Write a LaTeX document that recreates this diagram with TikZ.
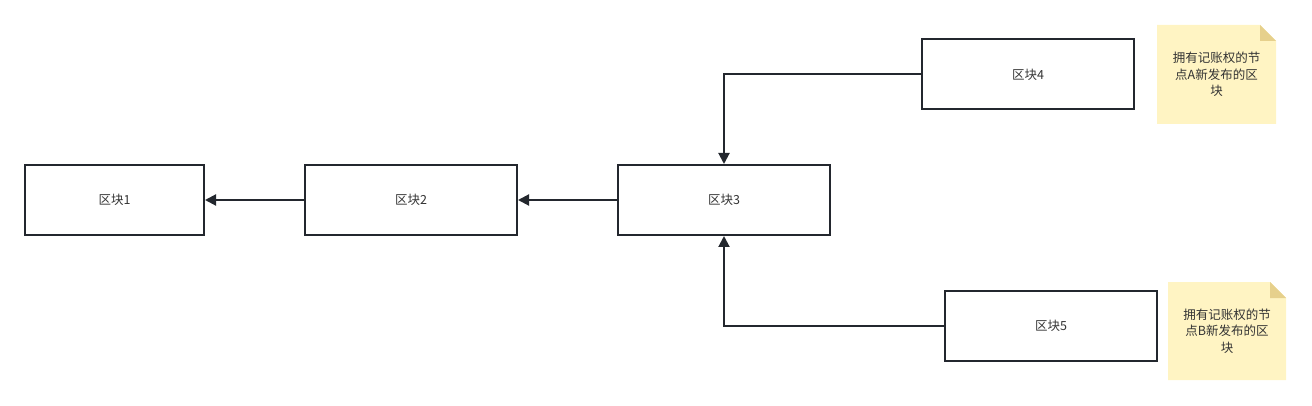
\documentclass[tikz,border=0pt]{standalone}
\usepackage{fontspec}
\newfontfamily\cjk{Noto Sans CJK SC}
\usetikzlibrary{arrows.meta}
\definecolor{bd}{HTML}{23272E}
\definecolor{tx}{HTML}{333333}
\definecolor{notefill}{HTML}{FFF4C3}
\definecolor{fold}{HTML}{E6D08C}
\tikzset{
  blk/.style={draw=bd, line width=2pt, fill=white, minimum width=#1, minimum height=70pt, inner sep=0pt, font=\cjk\fontsize{12.5}{14}\selectfont, text=tx},
  blk/.default=212pt,
  conn/.style={draw=bd, line width=2pt, -{Triangle[length=11pt,width=11pt]}},
  notetext/.style={font=\cjk\fontsize{12.5}{16.5}\selectfont, text=tx, align=center}
}
\begin{document}
\begin{tikzpicture}[x=1pt,y=-1pt]
\useasboundingbox (0,0) rectangle (1312,406);
\node[blk=179pt] (b1) at (114.5,200) {区块1};
\node[blk] (b2) at (411,200) {区块2};
\node[blk] (b3) at (724,200) {区块3};
\node[blk] (b4) at (1028,74.5) {区块4};
\node[blk] (b5) at (1051,326) {区块5};
\coordinate (c4) at (b4.west -| b3.north);
\coordinate (c5) at (b5.west -| b3.south);
\draw[conn] (b3.west) -- (b2.east);
\draw[conn] (b2.west) -- (b1.east);
\draw[conn] (b4.west) -- (c4) -- (b3.north);
\draw[conn] (b5.west) -- (c5) -- (b3.south);
% note A
\fill[notefill] (1157,25) -- (1260,25) -- (1276,41) -- (1276,124) -- (1157,124) -- cycle;
\fill[fold] (1260,25) -- (1276,41) -- (1260,41) -- cycle;
\node[notetext] (na) at (1216.5,74.5) {拥有记账权的节\\点A新发布的区\\块};
% note B
\fill[notefill] (1168,282) -- (1270,282) -- (1286,298) -- (1286,380) -- (1168,380) -- cycle;
\fill[fold] (1270,282) -- (1286,298) -- (1270,298) -- cycle;
\node[notetext] (nb) at (1227,331) {拥有记账权的节\\点B新发布的区\\块};
\end{tikzpicture}
\end{document}
